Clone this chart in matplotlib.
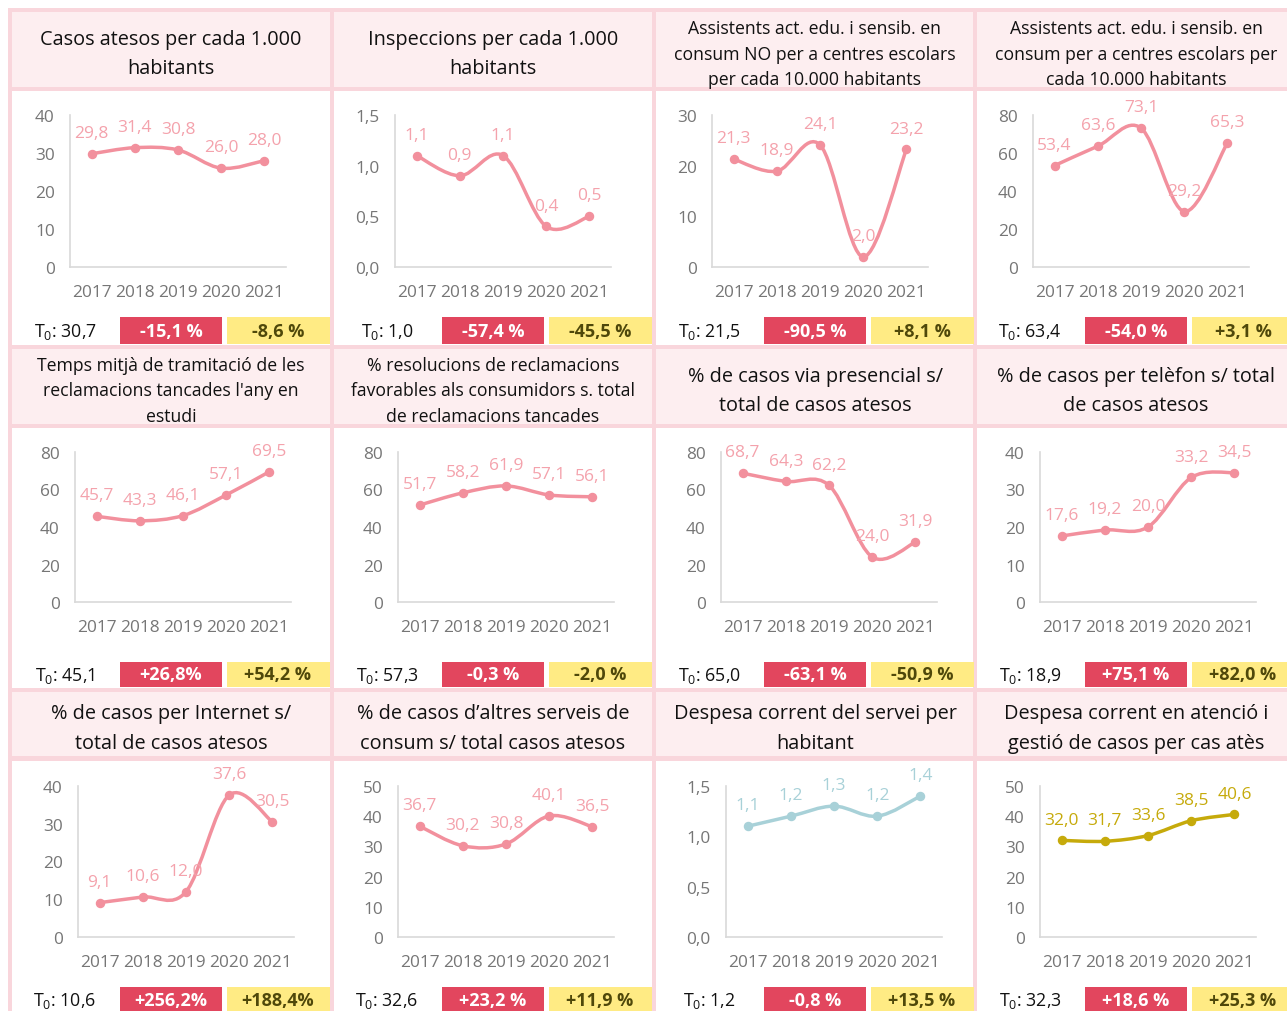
import numpy as np
import matplotlib
matplotlib.use("Agg")
import matplotlib.pyplot as plt
from matplotlib.patches import Rectangle, PathPatch
from matplotlib.path import Path

plt.rcParams["font.family"] = ["Open Sans", "DejaVu Sans"]
plt.rcParams["mathtext.fontset"] = "custom"
plt.rcParams["mathtext.rm"] = "Open Sans"

W, H = 1287, 1012

YEARS = ["2017", "2018", "2019", "2020", "2021"]

TITLES = [
    "Casos atesos per cada 1.000\nhabitants",
    "Inspeccions per cada 1.000\nhabitants",
    "Assistents act. edu. i sensib. en\nconsum NO per a centres escolars\nper cada 10.000 habitants",
    "Assistents act. edu. i sensib. en\nconsum per a centres escolars per\ncada 10.000 habitants",
    "Temps mitjà de tramitació de les\nreclamacions tancades l'any en\nestudi",
    "% resolucions de reclamacions\nfavorables als consumidors s. total\nde reclamacions tancades",
    "% de casos via presencial s/\ntotal de casos atesos",
    "% de casos per telèfon s/ total\nde casos atesos",
    "% de casos per Internet s/\ntotal de casos atesos",
    "% de casos d’altres serveis de\nconsum s/ total casos atesos",
    "Despesa corrent del servei per\nhabitant",
    "Despesa corrent en atenció i\ngestió de casos per cas atès",
]

casos_atesos = [29.8, 31.4, 30.8, 26.0, 28.0]
inspeccions = [1.1, 0.9, 1.1, 0.4, 0.5]
assist_no_escolars = [21.3, 18.9, 24.1, 2.0, 23.2]
assist_escolars = [53.4, 63.6, 73.1, 29.2, 65.3]
temps_tramitacio = [45.7, 43.3, 46.1, 57.1, 69.5]
resol_favorables = [51.7, 58.2, 61.9, 57.1, 56.1]
casos_presencial = [68.7, 64.3, 62.2, 24.0, 31.9]
casos_telefon = [17.6, 19.2, 20.0, 33.2, 34.5]
casos_internet = [9.1, 10.6, 12.0, 37.6, 30.5]
casos_altres = [36.7, 30.2, 30.8, 40.1, 36.5]
despesa_habitant = [1.1, 1.2, 1.3, 1.2, 1.4]
despesa_cas = [32.0, 31.7, 33.6, 38.5, 40.6]

SERIES = [casos_atesos, inspeccions, assist_no_escolars, assist_escolars,
          temps_tramitacio, resol_favorables, casos_presencial, casos_telefon,
          casos_internet, casos_altres, despesa_habitant, despesa_cas]

T0 = [30.7, 1.0, 21.5, 63.4, 45.1, 57.3, 65.0, 18.9, 10.6, 32.6, 1.2, 32.3]
VAR_RED = ["-15,1 %", "-57,4 %", "-90,5 %", "-54,0 %",
           "+26,8%", "-0,3 %", "-63,1 %", "+75,1 %",
           "+256,2%", "+23,2 %", "-0,8 %", "+18,6 %"]
VAR_YELLOW = ["-8,6 %", "-45,5 %", "+8,1 %", "+3,1 %",
              "+54,2 %", "-2,0 %", "-50,9 %", "+82,0 %",
              "+188,4%", "+11,9 %", "+13,5 %", "+25,3 %"]

YMAX = [40, 1.5, 30, 80, 80, 80, 80, 40, 40, 50, 1.5, 50]
YSTEP = [10, 0.5, 10, 20, 20, 20, 20, 10, 10, 10, 0.5, 10]

C = {"frame": "#f9d6dc", "band": "#fdeef0", "pink": "#f2909d",
     "pink_lbl": "#f4a2ac", "blue": "#a8d1d8", "olive": "#c6aa0b",
     "red": "#e2465e", "yellow": "#ffeb84", "ytext": "#4f480a",
     "tick": "#767676", "spine": "#d9d9d9"}
LINE = ["pink"] * 10 + ["blue", "olive"]
LABEL = ["pink_lbl"] * 10 + ["blue", "olive"]

# panel grid, in pixels
COL_X = [12, 334, 656, 977]
PANEL_W = 318
V_LINES = [(8, 12), (330, 334), (652, 656), (973, 977)]
H_LINES = [(9, 13), (88, 92), (346, 350), (425, 429), (689, 693), (757, 762)]
BAND = [(13, 88), (350, 425), (693, 757)]
BOXES = [(318, 345), (663, 688), (988, 1014)]
PLOT_Y = [(116, 268), (453, 603), (787, 938)]
PLOT_DX = [[58, 61, 56, 56], [63, 64, 65, 63], [66, 64, 70, 63]]
PLOT_W = 216


def fmt(v, nd=1):
    return f"{v:.{nd}f}".replace(".", ",")


def smooth_path(xs, ys):
    # cubic Bezier through each point, tangents from neighbouring points
    p = np.column_stack([xs, ys]).astype(float)
    n = len(p)
    verts, codes = [p[0]], [Path.MOVETO]
    for i in range(n - 1):
        p0 = p[i - 1] if i > 0 else p[i]
        p3 = p[i + 2] if i + 2 < n else p[i + 1]
        c1 = p[i] + (p[i + 1] - p0) / 6
        c2 = p[i + 1] - (p3 - p[i]) / 6
        verts += [c1, c2, p[i + 1]]
        codes += [Path.CURVE4] * 3
    return Path(verts, codes)


def draw_frame(bg):
    for r, (t, b) in enumerate(BAND):
        for c in range(4):
            bg.add_patch(Rectangle((COL_X[c], t), PANEL_W, b - t,
                                   facecolor=C["band"], lw=0))
    for x0, x1 in V_LINES:
        bg.add_patch(Rectangle((x0, 9), x1 - x0, H, facecolor=C["frame"], lw=0))
    for y0, y1 in H_LINES:
        bg.add_patch(Rectangle((8, y0), W, y1 - y0, facecolor=C["frame"], lw=0))


def draw_panel(fig, bg, k):
    r, c = divmod(k, 4)
    x0 = COL_X[c]
    t, b = BAND[r]
    two = TITLES[k].count("\n") == 1
    bg.text(x0 + PANEL_W / 2, (t + b) / 2 + 4, TITLES[k], ha="center",
            va="center", fontsize=14.3 if two else 12.7,
            linespacing=1.62 if two else 1.52, color="#111111")

    # bottom row: base value and the two variation boxes
    by0, by1 = BOXES[r]
    bym = (by0 + by1) / 2
    bg.text(x0 + 53, bym, "T$_0$: " + fmt(T0[k]), ha="center", va="center",
            fontsize=12.8, color="#111111")
    bg.add_patch(Rectangle((x0 + 108, by0), 102, by1 - by0,
                           facecolor=C["red"], lw=0))
    bg.add_patch(Rectangle((x0 + 215, by0), 103, by1 - by0,
                           facecolor=C["yellow"], lw=0))
    bg.text(x0 + 159, bym, VAR_RED[k], ha="center", va="center",
            fontsize=13, fontweight="bold", color="white")
    bg.text(x0 + 266, bym, VAR_YELLOW[k], ha="center", va="center",
            fontsize=13, fontweight="bold", color=C["ytext"])

    top, bot = PLOT_Y[r]
    left = x0 + PLOT_DX[r][c]
    ax = fig.add_axes([left / W, 1 - bot / H, PLOT_W / W, (bot - top) / H])
    ax.patch.set_alpha(0)
    for s in ("top", "right"):
        ax.spines[s].set_visible(False)
    for s in ("left", "bottom"):
        ax.spines[s].set_color(C["spine"])
        ax.spines[s].set_linewidth(1.2)
    ax.set_xlim(-0.5, 4.5)
    ax.set_ylim(0, YMAX[k])
    ax.set_xticks(range(5))
    ax.set_xticklabels(YEARS)
    ticks = np.arange(0, YMAX[k] + YSTEP[k] / 2, YSTEP[k])
    ax.set_yticks(ticks)
    nd = 1 if YSTEP[k] < 1 else 0
    ax.set_yticklabels([fmt(v, nd) for v in ticks])
    ax.tick_params(length=0, labelsize=12.4, colors=C["tick"])
    ax.tick_params(axis="x", pad=12.5)
    ax.tick_params(axis="y", pad=11)

    vals = SERIES[k]
    xs = np.arange(len(vals))
    col = C[LINE[k]]
    ax.add_patch(PathPatch(smooth_path(xs, vals), facecolor="none",
                           edgecolor=col, lw=2.5, capstyle="round",
                           clip_on=False, zorder=2))
    ax.plot(xs, vals, "o", ms=5.8, color=col, clip_on=False, zorder=3)
    for x, v in zip(xs, vals):
        ax.annotate(fmt(v), (x, v), xytext=(0, 15), textcoords="offset points",
                    ha="center", va="center", fontsize=12.5,
                    color=C[LABEL[k]], zorder=4)


def main():
    fig = plt.figure(figsize=(W / 100, H / 100), dpi=100, facecolor="white")
    bg = fig.add_axes([0, 0, 1, 1])
    bg.set_xlim(0, W)
    bg.set_ylim(H, 0)
    bg.axis("off")
    draw_frame(bg)
    for k in range(12):
        draw_panel(fig, bg, k)
    fig.savefig("out.png", dpi=100, facecolor="white")
    plt.close(fig)


if __name__ == "__main__":
    main()
